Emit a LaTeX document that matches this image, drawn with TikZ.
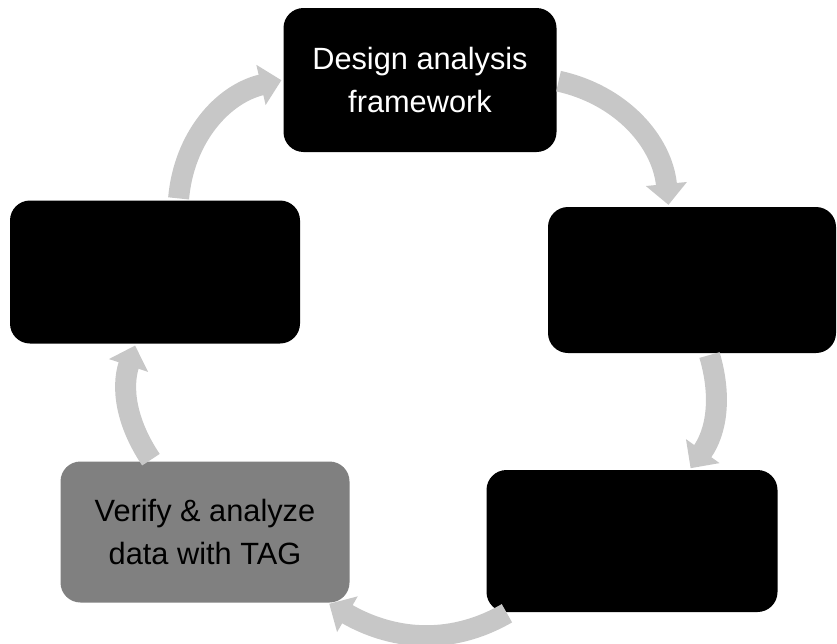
\documentclass[tikz,border=0pt]{standalone}
\usepackage{fontspec}
\setmainfont{Liberation Sans}
\usepackage{tikz}
\usetikzlibrary{%
arrows.meta,%
calc,%
backgrounds}

\tikzset{
  stage/.style={rectangle, rounded corners=0.4cm, fill=black, text=white,
    minimum width=5.8cm, minimum height=2.86cm, align=center,
    font=\fontsize{17.5}{24}\selectfont},
  cycarrow/.style={line width=0.42cm, draw=black!22,
    -{Triangle[width=0.8cm,length=0.42cm]}}
}

\begin{document}
\begin{tikzpicture}
\useasboundingbox (0,0) rectangle (16.74,12.86);
\node[stage, minimum width=5.46cm, minimum height=2.88cm] (design) at (8.40,11.26) {Design analysis\\framework};
\node[stage, minimum height=2.92cm, minimum width=5.76cm] (right) at (13.84,7.26) {};
\node[stage, minimum width=5.82cm, minimum height=2.84cm] (lowright) at (12.64,2.04) {};
\node[stage, fill=black!50, text=black, minimum width=5.78cm, minimum height=2.82cm] (verify) at (4.10,2.22) {Verify \& analyze\\data with TAG};
\node[stage] (left) at (3.10,7.42) {};
\begin{scope}[shorten >=1pt, shorten <=1pt]
    \draw[cycarrow] (design) to[bend left=36] (right);
    \draw[cycarrow] (right) to[bend left=26] (lowright);
    \draw[cycarrow] (lowright) to[out=-150, in=-30] (verify);
    \draw[cycarrow] (verify) to[bend left=26] (left);
    \draw[cycarrow] (left) to[bend left=36] (design);
\end{scope}
\end{tikzpicture}
\end{document}
